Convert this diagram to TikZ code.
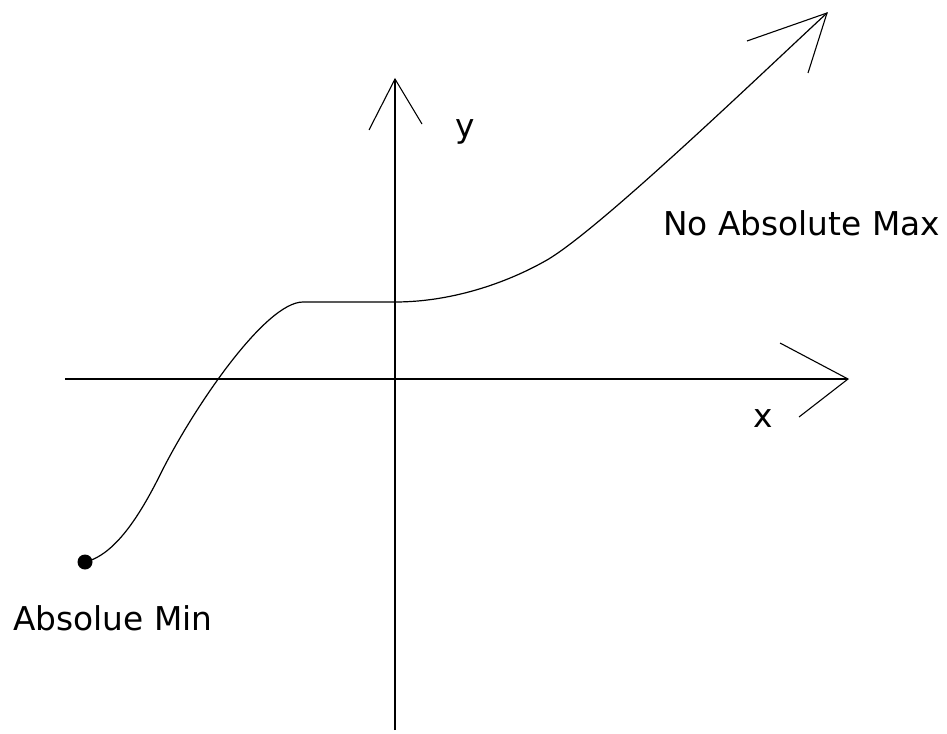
\documentclass[tikz,border=0pt]{standalone}
\usepackage{fontspec}
\setmainfont{DejaVu Sans}
\begin{document}
\begin{tikzpicture}[x=0.5pt,y=-0.5pt,
  axis/.style={line width=0.8pt,black},
  head/.style={line width=0.55pt,black},
  curve/.style={line width=0.6pt,black},
  lbl/.style={font=\fontsize{16.4}{19}\selectfont,inner sep=0pt,anchor=base west}]
\useasboundingbox (0,0) rectangle (947,733);
% axes
\coordinate (xl) at (65,379);
\coordinate (xr) at (848,379);
\coordinate (xh1) at (780,343);
\coordinate (xh2) at (799,417);
\coordinate (yb) at (395,730);
\coordinate (yt) at (395,79);
\coordinate (yh1) at (369,130);
\coordinate (yh2) at (422,124);
\draw[axis] (xl) -- (xr);
\draw[axis] (yb) -- (yt);
\draw[head] (xh1) -- (xr) -- (xh2);
\draw[head] (yh1) -- (yt) -- (yh2);
% curve
\coordinate (cs) at (85,562);
\coordinate (ce) at (827,13);
\coordinate (ch1) at (747,41);
\coordinate (ch2) at (808,73);
\draw[curve] (cs) .. controls (115,555) and (140,515) .. (160,475)
  .. controls (192,410) and (265,302) .. (303,302)
  -- (395,302)
  .. controls (450,302) and (505,284) .. (547,260)
  .. controls (600,229) and (760,75) .. (ce);
\draw[head] (ch1) -- (ce) -- (ch2);
\fill (cs) circle (7.5);
% labels
\node[lbl] (ylab) at (455,138) {y};
\node[lbl] (xlab) at (753,427) {x};
\node[lbl] (maxlab) at (663,235) {No Absolute Max};
\node[lbl] (minlab) at (13,630) {Absolue Min};
\end{tikzpicture}
\end{document}
